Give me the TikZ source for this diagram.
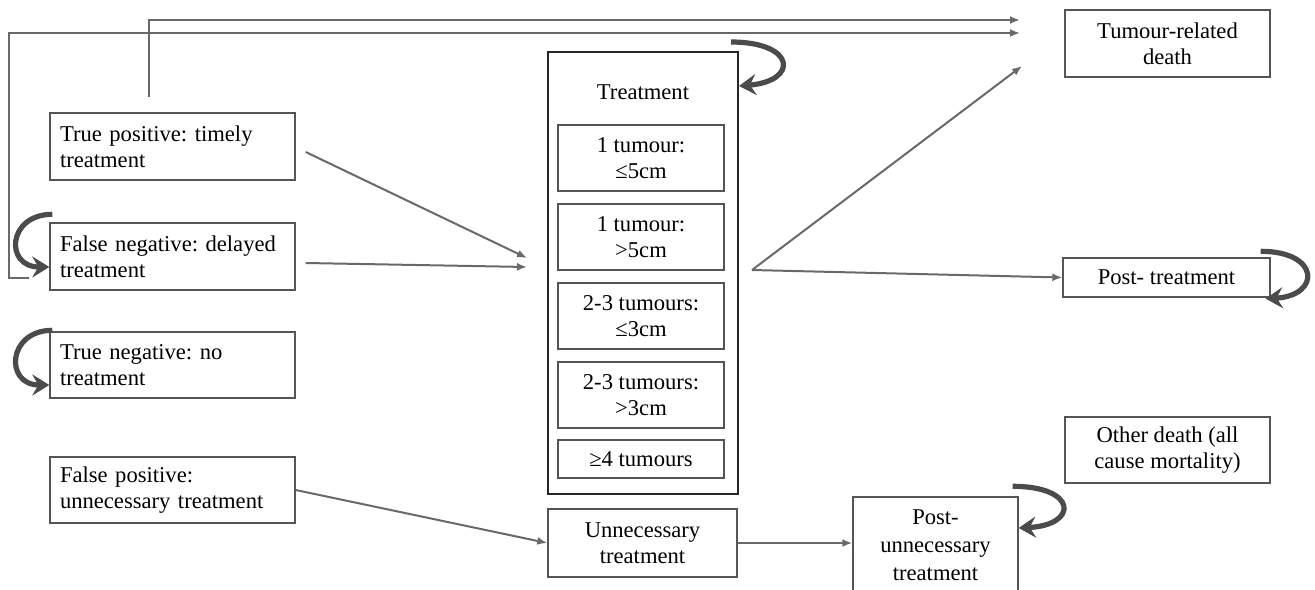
\documentclass[tikz,border=0pt]{standalone}
\usepackage{fontspec}
\setmainfont{Liberation Serif}
\usetikzlibrary{arrows.meta,calc}
\definecolor{linegray}{RGB}{105,105,105}
\definecolor{boxgray}{RGB}{85,85,85}
\definecolor{loopgray}{RGB}{75,75,75}
\frenchspacing
\begin{document}
\begin{tikzpicture}[x=0.5pt,y=-0.5pt,
  stbox/.style={draw=boxgray,line width=0.7pt,inner sep=0pt,align=center,font=\fontsize{11.3}{13}\selectfont},
  lbox/.style={stbox,text width=112.5pt,align=left,minimum width=122.5pt,minimum height=33.5pt},
  conn/.style={draw=linegray,line width=1pt,-{Latex[length=5pt,width=4pt]}},
  selfloop/.style={draw=loopgray,line width=2.6pt,-{Stealth[length=8.5pt,width=10.5pt,inset=3pt]}}]
\fill[white] (0,0) rectangle (1315,589);
\useasboundingbox (0,0) rectangle (1315,589);

% left boxes
\node[lbox] (tp) at (172.5,146.5) {True positive: timely\\treatment};
\node[lbox] (fn) at (172.5,256.5) {False negative: delayed\\treatment};
\node[lbox,minimum height=33pt] (tn) at (172.5,365) {True negative: no\\treatment};
\node[lbox,minimum height=33pt] (fp) at (172.5,490) {False positive:\\unnecessary treatment};

% treatment block
\node[draw=black!85,line width=1pt,minimum width=95pt,minimum height=221pt,inner sep=0pt] (trt) at (643,273) {};
\node[font=\fontsize{11.3}{13}\selectfont] (trtlabel) at (643,92) {Treatment};
\node[stbox,minimum width=83pt,minimum height=33pt] (b1) at (641,158) {1 tumour:\\≤5cm};
\node[stbox,minimum width=83pt,minimum height=33pt] (b2) at (641,237) {1 tumour:\\>5cm};
\node[stbox,minimum width=83pt,minimum height=33pt] (b3) at (641,316) {2-3 tumours:\\≤3cm};
\node[stbox,minimum width=83pt,minimum height=33pt] (b4) at (641,395) {2-3 tumours:\\>3cm};
\node[stbox,minimum width=83pt,minimum height=19pt] (b5) at (641,459) {≥4 tumours};

\node[stbox,minimum width=94.5pt,minimum height=34pt] (un) at (642.5,543) {Unnecessary\\treatment};
\node[stbox,minimum width=82.5pt,minimum height=48pt,font=\fontsize{11.3}{14}\selectfont] (pu) at (935.5,545) {Post-\\unnecessary\\treatment};

% right boxes
\node[stbox,minimum width=102.5pt,minimum height=33.5pt] (td) at (1167.5,43.5) {Tumour-related\\death};
\node[stbox,minimum width=103.5pt,minimum height=19.5pt] (pt) at (1166.5,277.5) {Post- treatment};
\node[stbox,minimum width=102.5pt,minimum height=33pt] (od) at (1167.5,450) {Other death (all\\cause mortality)};

% free ends
\coordinate (top1) at (1020,20);
\coordinate (top2) at (1020,33);
\coordinate (tin1) at (527,258);
\coordinate (tin2) at (527,267);
\coordinate (jn) at (752,270);
\coordinate (tdin) at (1022,66);

% connectors
\draw[conn] ($(tp.north west)+(100,-15)$) |- (top1);
\draw[conn] ($(fn.south west)+(-20,-13)$) -- ++(-20,0) |- (top2);
\draw[conn] ($(tp.east)+(10,5.5)$) -- (tin1);
\draw[conn] ($(fn.east)+(10,6.5)$) -- (tin2);
\draw[conn] (jn) -- (tdin);
\draw[conn] (jn) -- (pt.west);
\draw[conn] (fp.east) -- (un.west);
\draw[conn] (un.east) -- (un.east -| pu.west);

% self loops
\draw[selfloop] ($(fn.north west)+(3,-8)$) .. controls +(-45,0) and +(-45,0) .. ($(fn.west)+(0,10.5)$);
\draw[selfloop] ($(tn.north west)+(3,-1)$) .. controls +(-45,0) and +(-45,0) .. ($(tn.west)+(0,20)$);
\draw[selfloop] ($(trt.north east)+(-8,-9)$) .. controls +(65,0) and +(60,-5) .. ($(trt.north east)+(0,35)$);
\draw[selfloop] ($(pt.north east)+(-10,-6)$) .. controls +(60,0) and +(55,-3) .. ($(pt.south east)+(-5,1)$);
\draw[selfloop] ($(pu.north east)+(-6,-10)$) .. controls +(65,0) and +(60,-3) .. ($(pu.east)+(0,-17)$);
\end{tikzpicture}
\end{document}
